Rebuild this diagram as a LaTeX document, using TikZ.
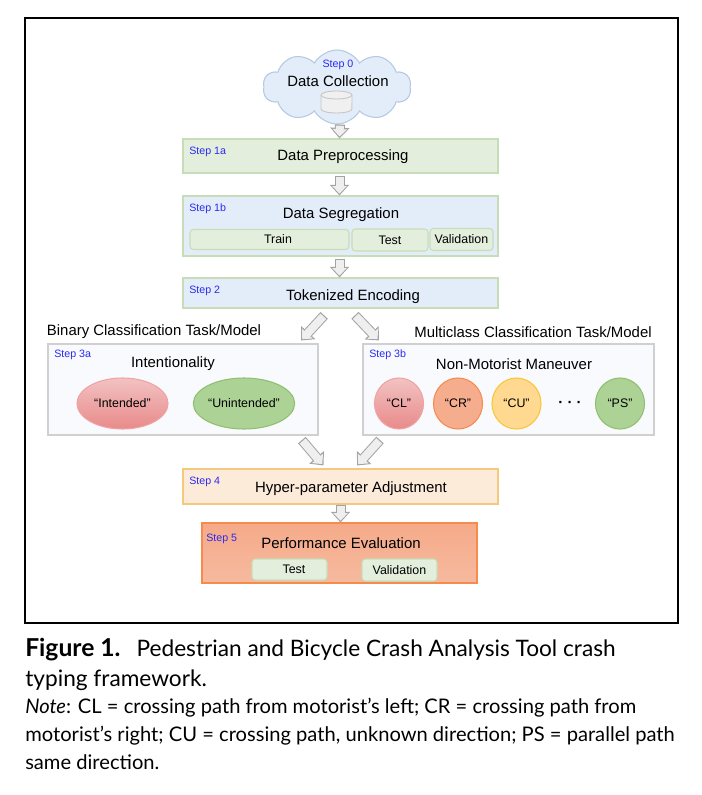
\documentclass[tikz,border=0pt]{standalone}
\usepackage{fontspec}
\setmainfont{Liberation Sans}
\newfontfamily\capfont{Lato}
\usetikzlibrary{arrows.meta, shapes.geometric, shapes.symbols}
\definecolor{stepblue}{HTML}{2A2AF0}
\definecolor{skyfill}{HTML}{E3EDF9}
\definecolor{skyline}{HTML}{B4C9E4}
\definecolor{leaffill}{HTML}{E3EFDC}
\definecolor{leafline}{HTML}{C6DDB8}
\definecolor{pale}{HTML}{F8FAFD}
\definecolor{paleline}{HTML}{D0D0D0}
\definecolor{sand}{HTML}{FDEBD9}
\definecolor{sandline}{HTML}{F5C87F}
\definecolor{coral}{HTML}{F58C4E}
\definecolor{rosetop}{HTML}{F2C2C2}
\definecolor{rosebot}{HTML}{E98A8A}
\definecolor{roseline}{HTML}{EFA3A3}
\definecolor{peach}{HTML}{F5AD8E}
\definecolor{gold}{HTML}{FFD990}
\definecolor{goldline}{HTML}{F9C53A}
\definecolor{grass}{HTML}{ADD296}
\definecolor{grassline}{HTML}{8FBF6F}
\definecolor{arrgray}{HTML}{A3A3A3}
\definecolor{arrfill}{HTML}{EFEFEF}
\tikzset{
  blk/.style={draw=#1, rectangle, inner sep=0pt, line width=0.8pt},
  blk/.default=leafline,
  sub/.style={draw=#1, fill=leaffill, rounded corners=2.5pt, font=\fontsize{9.3}{10}\selectfont,
              inner sep=0pt, line width=0.8pt},
  sub/.default=leafline,
  ttl/.style={font=\fontsize{11.2}{13}\selectfont, inner sep=0pt, yshift=-1pt},
  stp/.style={font=\fontsize{8}{9}\selectfont, text=stepblue, anchor=west, inner sep=0pt, yshift=-1.2pt},
  oval/.style={ellipse, font=\fontsize{9.3}{10}\selectfont, inner sep=0pt, line width=0.8pt},
  capln/.style={font=\capfont\fontsize{17}{20}\selectfont, anchor=west, inner sep=0pt},
  noteln/.style={font=\capfont\fontsize{15.1}{18}\selectfont, anchor=west, inner sep=0pt},
  dbs/.style={draw=black!22, line width=0.7pt},
  blockarr/.style={
    preaction={draw=arrgray, line width=7.5pt, shorten <=#1, shorten >=0pt,
               -{Triangle[length=8pt, width=14pt]}},
    draw=arrfill, line width=6pt, shorten <=#1+0.9pt, shorten >=1.4pt,
    -{Triangle[length=5.6pt, width=10.6pt]}},
  blockarr/.default=0pt,
}
\begin{document}
\begin{tikzpicture}[x=0.75pt, y=-0.75pt]
    \useasboundingbox (0,0) rectangle (701,795);
    \node[draw=black, line width=1.5pt, minimum width=653*0.75pt, minimum height=605*0.75pt] (frame) at (351.5,320.5) {};
    % step 0
    \node[cloud, cloud puffs=10, cloud puff arc=120, aspect=2, draw=skyline, fill=skyfill, line width=0.8pt,
          minimum width=148*0.75pt, minimum height=74*0.75pt, inner sep=0pt] (cloud) at (337,87) {};
    \node[stp, anchor=center] (s0) at (338,63) {Step 0};
    \node[ttl] (coll) at (338,80) {Data Collection};
    \draw[dbs, fill=black!6] (321,95) -- (321,109) arc[x radius=11.6pt, y radius=3pt, start angle=180, end angle=360]
        -- (352,95) arc[x radius=11.6pt, y radius=3pt, start angle=0, end angle=180] -- cycle;
    \draw[dbs] (321,95) arc[x radius=11.6pt, y radius=3pt, start angle=180, end angle=360];
    % step 1
    \node[blk, fill=leaffill, minimum width=315*0.75pt, minimum height=34*0.75pt] (prep) at (340.5,156) {};
    \node[stp] (s1a) at (189,150) {Step 1a};
    \node[ttl] (preptxt) at (343,155.5) {Data Preprocessing};
    \node[blk, fill=skyfill, minimum width=315*0.75pt, minimum height=60*0.75pt] (seg) at (340.5,226) {};
    \node[stp] (s1b) at (189,207) {Step 1b};
    \node[ttl] (segtxt) at (341,213) {Data Segregation};
    \node[sub, minimum width=159*0.75pt, minimum height=20*0.75pt] (train) at (269.5,239.5) {\hspace{12.75pt}Train};
    \node[sub, minimum width=76*0.75pt, minimum height=22*0.75pt] (test) at (390,240) {Test\hspace{3pt}};
    \node[sub, minimum width=63*0.75pt, minimum height=22*0.75pt] (valid) at (461.5,239.5) {Validation};
    % step 2
    \node[blk, fill=skyfill, minimum width=315*0.75pt, minimum height=30*0.75pt] (enc) at (340.5,293) {};
    \node[stp] (s2) at (189,289) {Step 2};
    \node[ttl] (enctxt) at (353,295) {Tokenized Encoding};
    % step 3a
    \node[ttl] (bintxt) at (154,330) {Binary Classification Task/Model};
    \node[blk=paleline, fill=pale, minimum width=270*0.75pt, minimum height=91*0.75pt] (binbox) at (183,389.5) {};
    \node[stp] (s3a) at (54,353) {Step 3a};
    \node[ttl] (inttxt) at (173,362) {Intentionality};
    \node[oval, draw=roseline, top color=rosetop, bottom color=rosebot, minimum width=91*0.75pt, minimum height=51*0.75pt] (intd) at (122.5,403.5) {``Intended''};
    \node[oval, draw=grassline, fill=grass, minimum width=90*0.75pt, minimum height=51*0.75pt] (unint) at (244,403.5) {``Unintended''};
    % step 3b
    \node[ttl] (multxt) at (533,331) {Multiclass Classification Task/Model};
    \node[blk=paleline, fill=pale, minimum width=291*0.75pt, minimum height=91*0.75pt] (mulbox) at (508.5,389.5) {};
    \node[stp] (s3b) at (369,353) {Step 3b};
    \node[ttl] (mantxt) at (514,363) {Non-Motorist Maneuver};
    \node[oval, draw=roseline, top color=rosetop, bottom color=rosebot, minimum width=49*0.75pt, minimum height=51*0.75pt] (cl) at (399,403.5) {``CL''};
    \node[oval, draw=coral, fill=peach, minimum width=49*0.75pt, minimum height=51*0.75pt] (cr) at (458,403.5) {``CR''};
    \node[oval, draw=goldline, fill=gold, minimum width=49*0.75pt, minimum height=51*0.75pt] (cu) at (516.5,403.5) {``CU''};
    \node[ttl] (dots) at (570,403) {\textbf{· · ·}};
    \node[oval, draw=grassline, fill=grass, minimum width=49*0.75pt, minimum height=51*0.75pt] (ps) at (620,403.5) {``PS''};
    % step 4
    \node[blk=sandline, fill=sand, minimum width=315*0.75pt, minimum height=35*0.75pt] (hyper) at (340.5,486.5) {};
    \node[stp] (s4) at (189,480) {Step 4};
    \node[ttl] (hyptxt) at (351,487) {Hyper-parameter Adjustment};
    % step 5
    \node[blk=coral, top color=peach!92!coral, bottom color=peach!85!white, minimum width=275*0.75pt, minimum height=60*0.75pt] (eval) at (339.5,553) {};
    \node[stp] (s5) at (206,537) {Step 5};
    \node[ttl] (evatxt) at (341,542) {Performance Evaluation};
    \node[sub, minimum width=75*0.75pt, minimum height=21*0.75pt] (etest) at (289.5,569.5) {\hspace{6.75pt}Test};
    \node[sub, minimum width=75*0.75pt, minimum height=22*0.75pt] (evalid) at (399.5,570) {Validation\hspace{3.75pt}};

    \draw[blockarr] ([shift={(3,0)}]cloud.south) -- ([shift={(-1,0)}]prep.north);
    \draw[blockarr=2pt] ([shift={(-1,0)}]prep.south) -- ([shift={(-1,0)}]seg.north);
    \draw[blockarr=1.5pt] ([shift={(-1,0)}]seg.south) -- ([shift={(-1,0)}]enc.north);
    \draw[blockarr=7pt] ([shift={(-10,0)}]enc.south) -- ([shift={(118,-3)}]binbox.north);
    \draw[blockarr=7pt] ([shift={(8,0)}]enc.south) -- ([shift={(-129.5,-3)}]mulbox.north);
    \draw[blockarr=4.5pt] ([shift={(115,0)}]binbox.south) -- ([shift={(-17,-3)}]hyper.north);
    \draw[blockarr=4.5pt] ([shift={(-124.5,0)}]mulbox.south) -- ([shift={(16.5,-3)}]hyper.north);
    \draw[blockarr=0pt] ([shift={(0,0)}]hyper.south) -- ([shift={(1,0)}]eval.north);

    % caption
    \node[capln] (capa) at (25,650) {{\fontsize{18.5}{20}\selectfont\bfseries Figure 1.}\hspace{12pt}Pedestrian and Bicycle Crash Analysis Tool crash};
    \node[capln] (capb) at (25,680) {typing framework.};
    \node[noteln] (capc) at (25,708) {\textit{Note}: CL = crossing path from motorist’s left; CR = crossing path from};
    \node[noteln] (capd) at (25,736) {motorist’s right; CU = crossing path, unknown direction; PS = parallel path};
    \node[noteln] (cape) at (25,762) {same direction.};
\end{tikzpicture}
\end{document}
